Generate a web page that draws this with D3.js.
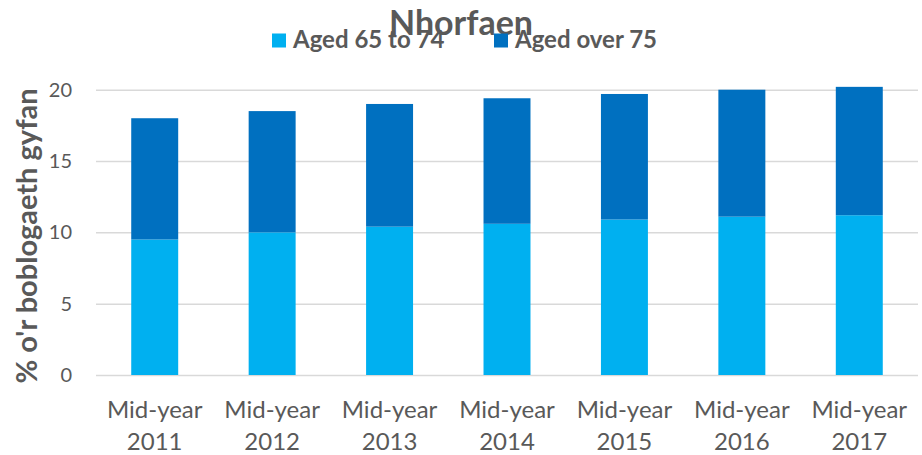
<!DOCTYPE html>
<html>
<head>
<meta charset="utf-8">
<script src="https://cdn.jsdelivr.net/npm/d3@7"></script>
<style>
  body { margin: 0; background: #fff; }
  svg text { font-family: Lato, "Open Sans", sans-serif; fill: #595959; }
</style>
</head>
<body>
<svg id="chart"></svg>
<script>
(function(){
    "use strict";

    var years = ["2011", "2012", "2013", "2014", "2015", "2016", "2017"];
    var aged65to74 = [9.5, 10.0, 10.4, 10.6, 10.9, 11.1, 11.2];
    var agedOver75 = [8.5, 8.5, 8.6, 8.8, 8.8, 8.9, 9.0];
    var yTicks = [0, 5, 10, 15, 20];
    var seriesNames = ["Aged 65 to 74", "Aged over 75"];
    var colours = ["#00B0F0", "#0070C0"];

    var width = 922,
        height = 455,
        left = 96,
        right = 918,
        bottom = 375,
        top = 89.7;

    var svg = d3.select("svg#chart")
        .attr("width", width)
        .attr("height", height);

    var x = d3.scaleBand()
        .domain(years)
        .range([left, right])
        .paddingInner(0.6)
        .paddingOuter(0.3);

    var y = d3.scaleLinear()
        .domain([0, 20])
        .range([bottom, top]);

    // gridlines + tick labels
    var yAxis = svg.append("g")
        .attr("transform", "translate(" + left + ",0)")
        .call(d3.axisLeft(y).tickValues(yTicks).tickSize(-(right - left)).tickPadding(24));
    yAxis.select(".domain").remove();
    yAxis.selectAll(".tick line").attr("stroke", "#D9D9D9").attr("stroke-width", 1.5);
    yAxis.selectAll(".tick text")
        .attr("font-size", 20)
        .attr("fill", "#595959");

    // stacked bars
    var rows = years.map(function(d, i) {
        return {year: d, a: aged65to74[i], b: agedOver75[i]};
    });
    var stack = d3.stack().keys(["a", "b"])(rows);

    svg.append("g").selectAll("g")
        .data(stack)
        .enter().append("g")
        .attr("fill", function(d, i) { return colours[i]; })
        .selectAll("rect")
        .data(function(d) { return d; })
        .enter().append("rect")
        .attr("x", function(d) { return x(d.data.year); })
        .attr("width", x.bandwidth())
        .attr("y", function(d) { return y(d[1]); })
        .attr("height", function(d) { return y(d[0]) - y(d[1]); });

    // x labels, two lines
    var xl = svg.append("g").selectAll("text")
        .data(years)
        .enter().append("text")
        .attr("text-anchor", "middle")
        .attr("font-size", 24)
        .attr("x", function(d) { return x(d) + x.bandwidth() / 2; });
    xl.append("tspan")
        .attr("x", function(d) { return x(d) + x.bandwidth() / 2; })
        .attr("y", 418)
        .text("Mid-year");
    xl.append("tspan")
        .attr("x", function(d) { return x(d) + x.bandwidth() / 2; })
        .attr("y", 450)
        .text(function(d) { return d; });

    // y title
    svg.append("text")
        .attr("transform", "translate(37,236) rotate(-90)")
        .attr("text-anchor", "middle")
        .attr("font-size", 29)
        .attr("font-weight", "bold")
        .text("% o'r boblogaeth gyfan");

    // title
    svg.append("text")
        .attr("x", 461)
        .attr("y", 35)
        .attr("text-anchor", "middle")
        .attr("font-size", 34)
        .attr("font-weight", "bold")
        .text("Nhorfaen");

    // legend
    var legendX = [272, 494];
    var lg = svg.append("g").selectAll("g")
        .data(seriesNames)
        .enter().append("g")
        .attr("transform", function(d, i) { return "translate(" + legendX[i] + ",0)"; });
    lg.append("rect")
        .attr("y", 33.5)
        .attr("width", 14)
        .attr("height", 14)
        .attr("fill", function(d, i) { return colours[i]; });
    lg.append("text")
        .attr("x", 21)
        .attr("y", 48)
        .attr("font-size", 24)
        .attr("font-weight", "bold")
        .text(function(d) { return d; });
})();
</script>
</body>
</html>
